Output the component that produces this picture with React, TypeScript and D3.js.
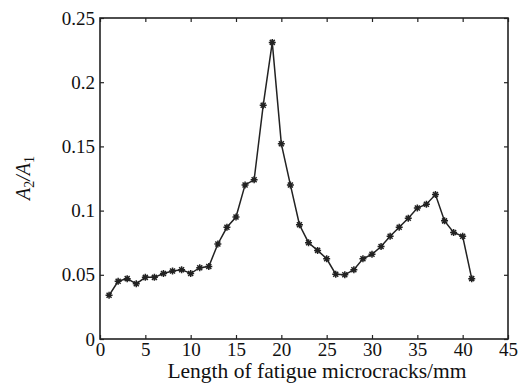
import { useEffect, useRef } from "react";
import * as d3 from "d3";

// crack length (mm) and amplitude ratio A2/A1
const lengths = [1, 2, 3, 4, 5, 6, 7, 8, 9, 10, 11, 12, 13, 14, 15, 16, 17, 18, 19, 20, 21,
  22, 23, 24, 25, 26, 27, 28, 29, 30, 31, 32, 33, 34, 35, 36, 37, 38, 39, 40, 41];
const ratios = [0.034, 0.045, 0.047, 0.043, 0.048, 0.048, 0.051, 0.053, 0.054, 0.051, 0.0555,
  0.0565, 0.074, 0.087, 0.095, 0.12, 0.124, 0.182, 0.231, 0.152, 0.12, 0.089, 0.075, 0.069,
  0.0625, 0.0505, 0.05, 0.054, 0.0625, 0.066, 0.072, 0.08, 0.087, 0.094, 0.102, 0.105, 0.1125,
  0.092, 0.083, 0.08, 0.047];
const xTicks = [0, 5, 10, 15, 20, 25, 30, 35, 40, 45];
const yTicks = [0, 0.05, 0.1, 0.15, 0.2, 0.25];

const W = 526, H = 383;
const margin = { top: 18, right: 18, bottom: 44, left: 100 };

export default function App() {
  const ref = useRef<SVGSVGElement>(null);

  useEffect(() => {
    const svg = d3.select(ref.current);
    svg.selectAll("*").remove();
    const iw = W - margin.left - margin.right;
    const ih = H - margin.top - margin.bottom;
    const x = d3.scaleLinear().domain([0, 45]).range([0, iw]);
    const y = d3.scaleLinear().domain([0, 0.25]).range([ih, 0]);
    const font = "'Liberation Serif', 'Times New Roman', serif";

    const g = svg.append("g").attr("transform", `translate(${margin.left},${margin.top})`);

    // inward ticks on all four sides
    const tk = 4;
    g.append("g").attr("transform", `translate(0,${ih})`)
      .call(d3.axisBottom(x).tickValues(xTicks).tickSizeInner(-tk).tickSizeOuter(0).tickPadding(4).tickFormat(d3.format("d")));
    g.append("g")
      .call(d3.axisTop(x).tickValues(xTicks).tickSizeInner(-tk).tickSizeOuter(0).tickFormat(() => ""));
    g.append("g")
      .call(d3.axisLeft(y).tickValues(yTicks).tickSizeInner(-tk).tickSizeOuter(0).tickPadding(5).tickFormat((d) => String(+d)));
    g.append("g").attr("transform", `translate(${iw},0)`)
      .call(d3.axisRight(y).tickValues(yTicks).tickSizeInner(-tk).tickSizeOuter(0).tickFormat(() => ""));

    g.selectAll(".domain").remove();
    g.selectAll(".tick line").attr("stroke", "#222").attr("stroke-width", 1.2);
    g.selectAll(".tick text").attr("fill", "#111").style("font-family", font).style("font-size", "19px");

    g.append("rect").attr("width", iw).attr("height", ih)
      .attr("fill", "none").attr("stroke", "#222").attr("stroke-width", 1.6);

    const pts = lengths.map((l, i) => [l, ratios[i]] as [number, number]);
    const line = d3.line<[number, number]>().x((d) => x(d[0])).y((d) => y(d[1]));
    g.append("path").datum(pts).attr("d", line).attr("fill", "none")
      .attr("stroke", "#222").attr("stroke-width", 1.5);

    // star markers
    const s = 3.5, s2 = 2.5;
    const star = `M${-s},0L${s},0M0,${-s}L0,${s}M${-s2},${-s2}L${s2},${s2}M${-s2},${s2}L${s2},${-s2}`;
    g.selectAll(".mk").data(pts).join("path")
      .attr("transform", (d) => `translate(${x(d[0])},${y(d[1])})`)
      .attr("d", star).attr("stroke", "#222").attr("stroke-width", 1.5).attr("fill", "none");

    // axis titles
    svg.append("text").attr("x", 317).attr("y", 378)
      .attr("text-anchor", "middle").attr("fill", "#111")
      .style("font-family", font).style("font-size", "21.5px")
      .text("Length of fatigue microcracks/mm");

    const yl = svg.append("text").attr("transform", `translate(30,178) rotate(-90)`)
      .attr("text-anchor", "middle").attr("fill", "#111")
      .style("font-family", font).style("font-size", "20px").style("font-style", "italic");
    yl.append("tspan").text("A");
    yl.append("tspan").attr("dy", 4).style("font-size", "14px").style("font-style", "normal").text("2");
    yl.append("tspan").attr("dy", -4).text("/A");
    yl.append("tspan").attr("dy", 4).style("font-size", "14px").style("font-style", "normal").text("1");
  }, []);

  return (
    <svg ref={ref} width={W} height={H}
      style={{ position: "absolute", left: 0, top: 0, background: "#fff" }} />
  );
}
